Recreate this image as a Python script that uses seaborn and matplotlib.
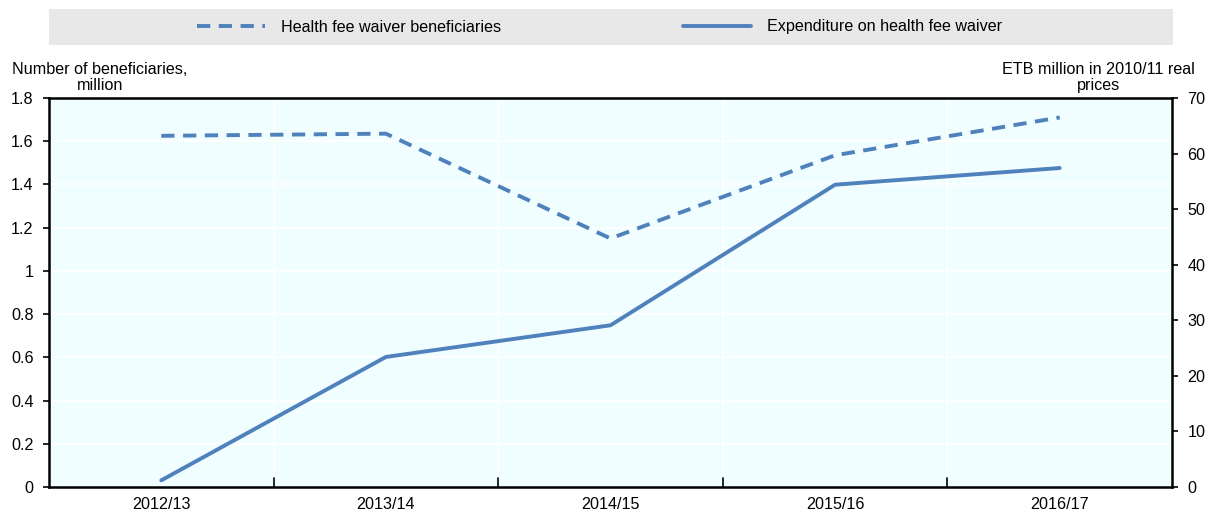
import pandas as pd
import matplotlib.pyplot as plt
import seaborn as sns
from matplotlib.lines import Line2D

years = ["2012/13", "2013/14", "2014/15", "2015/16", "2016/17"]
beneficiaries = [1.625, 1.635, 1.15, 1.535, 1.71]   # million, left axis
expenditure = [1.2, 23.4, 29.1, 54.4, 57.4]         # ETB million, right axis

df = pd.DataFrame({"year": years, "pos": range(len(years)),
                   "beneficiaries": beneficiaries, "expenditure": expenditure})

sns.set_style("white")
plt.rcParams["font.family"] = ["Liberation Sans", "DejaVu Sans"]
plt.rcParams["text.color"] = "black"
plt.rcParams["xtick.color"] = "black"
plt.rcParams["ytick.color"] = "black"
fs = 11.6
plt.rcParams["font.size"] = fs

blue = "#4F81BD"
dash = (0, (3.4, 2.2))
fig = plt.figure(figsize=(12.17, 5.15), dpi=100)
ax = fig.add_axes([49 / 1217, 28 / 515, 1123 / 1217, 389 / 515])
ax2 = ax.twinx()

ax.set_facecolor("#F0FEFF")
ax.set_xlim(-0.5, 4.5)
ax.set_ylim(0, 1.8)
ax.set_yticks([i * 0.2 for i in range(10)])
ax.set_yticklabels(["0", "0.2", "0.4", "0.6", "0.8", "1", "1.2", "1.4", "1.6", "1.8"])
ax.set_xticks(range(5))
ax.set_xticklabels(years)
ax.tick_params(axis="x", length=0, pad=7, labelsize=fs)
ax.tick_params(axis="y", length=4, width=1.2, direction="out", pad=7, left=True, labelsize=fs)
for x in [0.5, 1.5, 2.5, 3.5]:
    ax.axvline(x, color="white", lw=1.2, zorder=0)
    ax.plot([x, x], [0, 0.04], color="black", lw=1.2, clip_on=False, zorder=3)
for y in [i * 0.2 for i in range(1, 9)]:
    ax.axhline(y, color="white", lw=1.2, zorder=0)

sns.lineplot(data=df, x="pos", y="beneficiaries", ax=ax, color=blue, lw=2.8,
             linestyle=dash)
ax2.set_ylim(0, 70)
ax2.set_yticks(range(0, 80, 10))
ax2.tick_params(axis="y", length=4, width=1.2, direction="out", pad=7, right=True, labelsize=fs)
sns.lineplot(data=df, x="pos", y="expenditure", ax=ax2, color=blue, lw=2.8)

for a in (ax, ax2):
    a.set_xlabel("")
    a.set_ylabel("")
    for s in a.spines.values():
        s.set_visible(False)
ax.spines["left"].set_visible(True)
ax.spines["bottom"].set_visible(True)
ax2.spines["right"].set_visible(True)
ax2.spines["top"].set_visible(True)
for a in (ax, ax2):
    for s in a.spines.values():
        s.set_linewidth(1.8)
        s.set_color("black")
ax.set_xlim(-0.5, 4.5)

fig.text(12 / 1217, 1 - 93 / 515, "Number of beneficiaries,\nmillion", ha="left",
         va="bottom", multialignment="center", fontsize=fs, linespacing=1.1)
fig.text(1195 / 1217, 1 - 93 / 515, "ETB million in 2010/11 real\nprices", ha="right",
         va="bottom", multialignment="center", fontsize=fs, linespacing=1.1)

# legend band
lax = fig.add_axes([49 / 1217, 1 - 45 / 515, 1124 / 1217, 36 / 515])
lax.set_facecolor("#E8E8E8")
lax.set_xticks([])
lax.set_yticks([])
for s in lax.spines.values():
    s.set_visible(False)
handles = [Line2D([], [], color=blue, lw=2.8, linestyle=dash),
           Line2D([], [], color=blue, lw=2.8)]
lax.legend(handles, ["Health fee waiver beneficiaries", "Expenditure on health fee waiver"],
           loc="center", ncol=2, frameon=False, handlelength=4.2, columnspacing=11.3,
           handletextpad=1.0, fontsize=fs, bbox_to_anchor=(0.49, 0.5))

fig.savefig("out.png", dpi=100)
